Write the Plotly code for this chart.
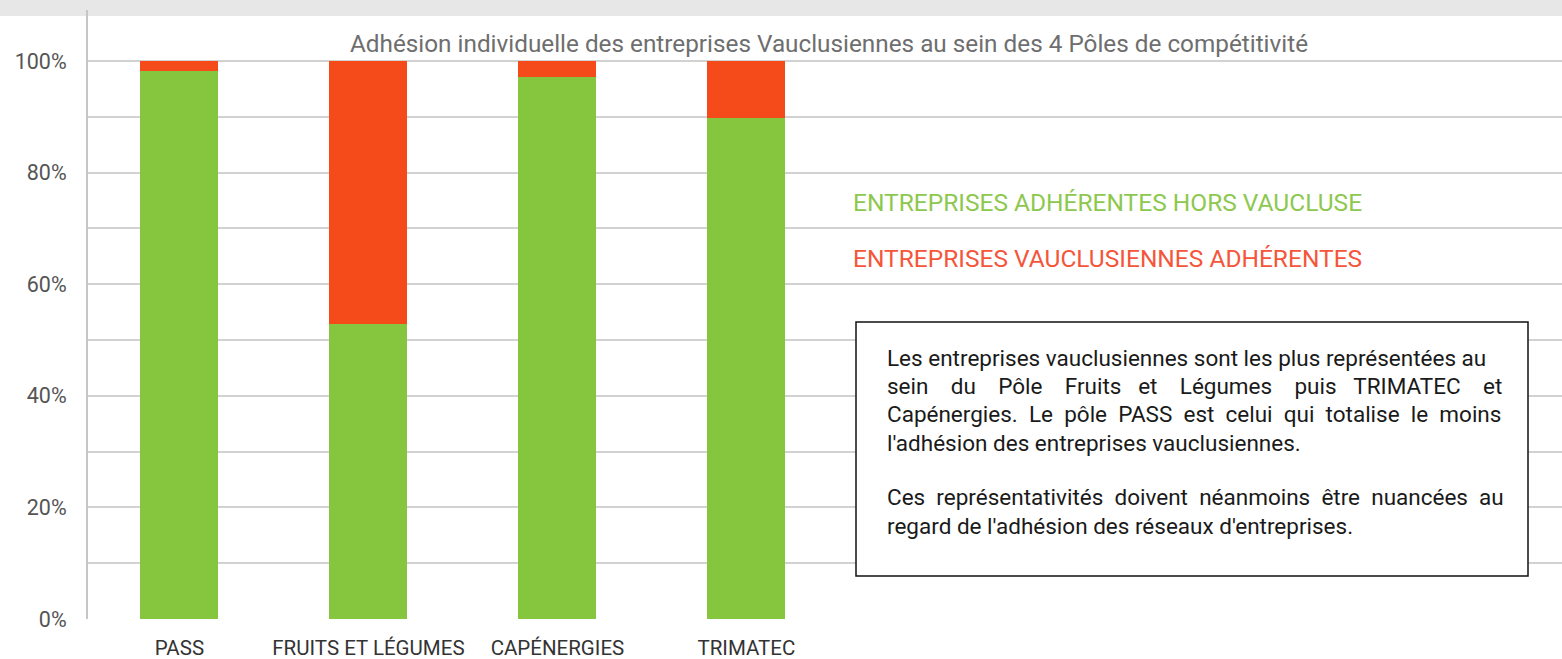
import plotly.graph_objects as go

categories = ["PASS", "FRUITS ET LÉGUMES", "CAPÉNERGIES", "TRIMATEC"]
hors_vaucluse = [98.2, 52.9, 97.1, 89.8]
vauclusiennes = [1.8, 47.1, 2.9, 10.2]
y_ticks = [0, 20, 40, 60, 80, 100]
y_tick_labels = ["0%", "20%", "40%", "60%", "80%", "100%"]

title_text = "Adhésion individuelle des entreprises Vauclusiennes au sein des 4 Pôles de compétitivité"
legend_green = "ENTREPRISES ADHÉRENTES HORS VAUCLUSE"
legend_red = "ENTREPRISES VAUCLUSIENNES ADHÉRENTES"
box_lines = [
    "Les entreprises vauclusiennes sont les plus représentées au",
    "sein du Pôle Fruits et Légumes puis TRIMATEC et",
    "Capénergies. Le pôle PASS est celui qui totalise le moins",
    "l'adhésion des entreprises vauclusiennes.",
    "Ces représentativités doivent néanmoins être nuancées au",
    "regard de l'adhésion des réseaux d'entreprises.",
]
# extra non-breaking spaces per word gap, to imitate the justified paragraph
justify_pad = [
    [],
    [3, 3, 3, 2, 3, 3, 2, 3],
    [1, 1, 1, 1, 1, 1, 1, 1, 1],
    [],
    [1, 1, 1, 1, 1, 1],
    [],
]

GREEN = "#86C63E"
RED = "#F54A1A"
FONT = "Roboto"

W, H = 1562, 659
L, R, T, B = 88, 0, 10, 40
PW, PH = W - L - R, H - T - B


def px(x):
    return (x - L) / PW


def py(y):
    return (H - B - y) / PH


def justify(line, pads):
    words = line.split(" ")
    out = words[0]
    for i, w in enumerate(words[1:]):
        n = pads[i] if i < len(pads) else 0
        out += " " + "\u00a0" * n + w
    return out


fig = go.Figure()
fig.add_trace(go.Bar(x=categories, y=hors_vaucluse, marker=dict(color=GREEN, line=dict(width=0)),
                     width=0.413, name=legend_green, hoverinfo="skip"))
fig.add_trace(go.Bar(x=categories, y=vauclusiennes, marker=dict(color=RED, line=dict(width=0)),
                     width=0.413, name=legend_red, hoverinfo="skip"))

annotations = [
    dict(text=title_text, x=px(829), y=py(43), xref="paper", yref="paper", showarrow=False,
         xanchor="center", yanchor="middle", font=dict(family=FONT, size=24.3, color="#6E6E6E")),
    dict(text=legend_green, x=px(851), y=py(203), xref="paper", yref="paper", showarrow=False,
         xanchor="left", yanchor="middle", font=dict(family=FONT, size=24.5, color="#8DC84E")),
    dict(text=legend_red, x=px(851), y=py(258), xref="paper", yref="paper", showarrow=False,
         xanchor="left", yanchor="middle", font=dict(family=FONT, size=24.5, color="#F5553A")),
]
line_y = [358, 386, 414, 443, 497, 526]
for t, yy, pads in zip(box_lines, line_y, justify_pad):
    annotations.append(dict(text=justify(t, pads), x=px(885), y=py(yy), xref="paper", yref="paper",
                            showarrow=False, xanchor="left", yanchor="middle",
                            font=dict(family=FONT, size=22.5, color="#1a1a1a")))

shapes = [
    dict(type="rect", xref="paper", yref="paper", x0=px(0), x1=px(W), y0=py(16), y1=py(0),
         fillcolor="#E7E7E7", line=dict(width=0), layer="below"),
    dict(type="rect", xref="paper", yref="paper", x0=px(856), x1=px(1528), y0=py(576), y1=py(322),
         fillcolor="white", line=dict(color="#111111", width=1.5), layer="above"),
]

fig.update_layout(
    width=W, height=H,
    margin=dict(l=L, r=R, t=T, b=B),
    barmode="stack",
    showlegend=False,
    paper_bgcolor="white",
    plot_bgcolor="white",
    annotations=annotations,
    shapes=shapes,
    font=dict(family=FONT),
    xaxis=dict(
        range=[-0.484, 7.316], showgrid=False, showline=False, zeroline=False,
        tickfont=dict(family=FONT, size=20.5, color="#333333"),
        ticks="", ticklabelstandoff=14, fixedrange=True,
    ),
    yaxis=dict(
        range=[0, (H - B - T) / 558 * 100], tickvals=y_ticks, ticktext=y_tick_labels,
        showgrid=True, gridcolor="#D2D2D2", gridwidth=1.5,
        minor=dict(tickvals=[10, 30, 50, 70, 90], showgrid=True, gridcolor="#D2D2D2", gridwidth=1.5),
        showline=True, linecolor="#C6C6C6", linewidth=2, zeroline=False,
        tickfont=dict(family=FONT, size=21.5, color="#555555"),
        ticks="", ticklabelstandoff=15, fixedrange=True,
    ),
)

fig.write_html("out.html", config={"displayModeBar": False},
               post_script="document.body.style.margin='0';document.body.style.overflow='hidden';")
